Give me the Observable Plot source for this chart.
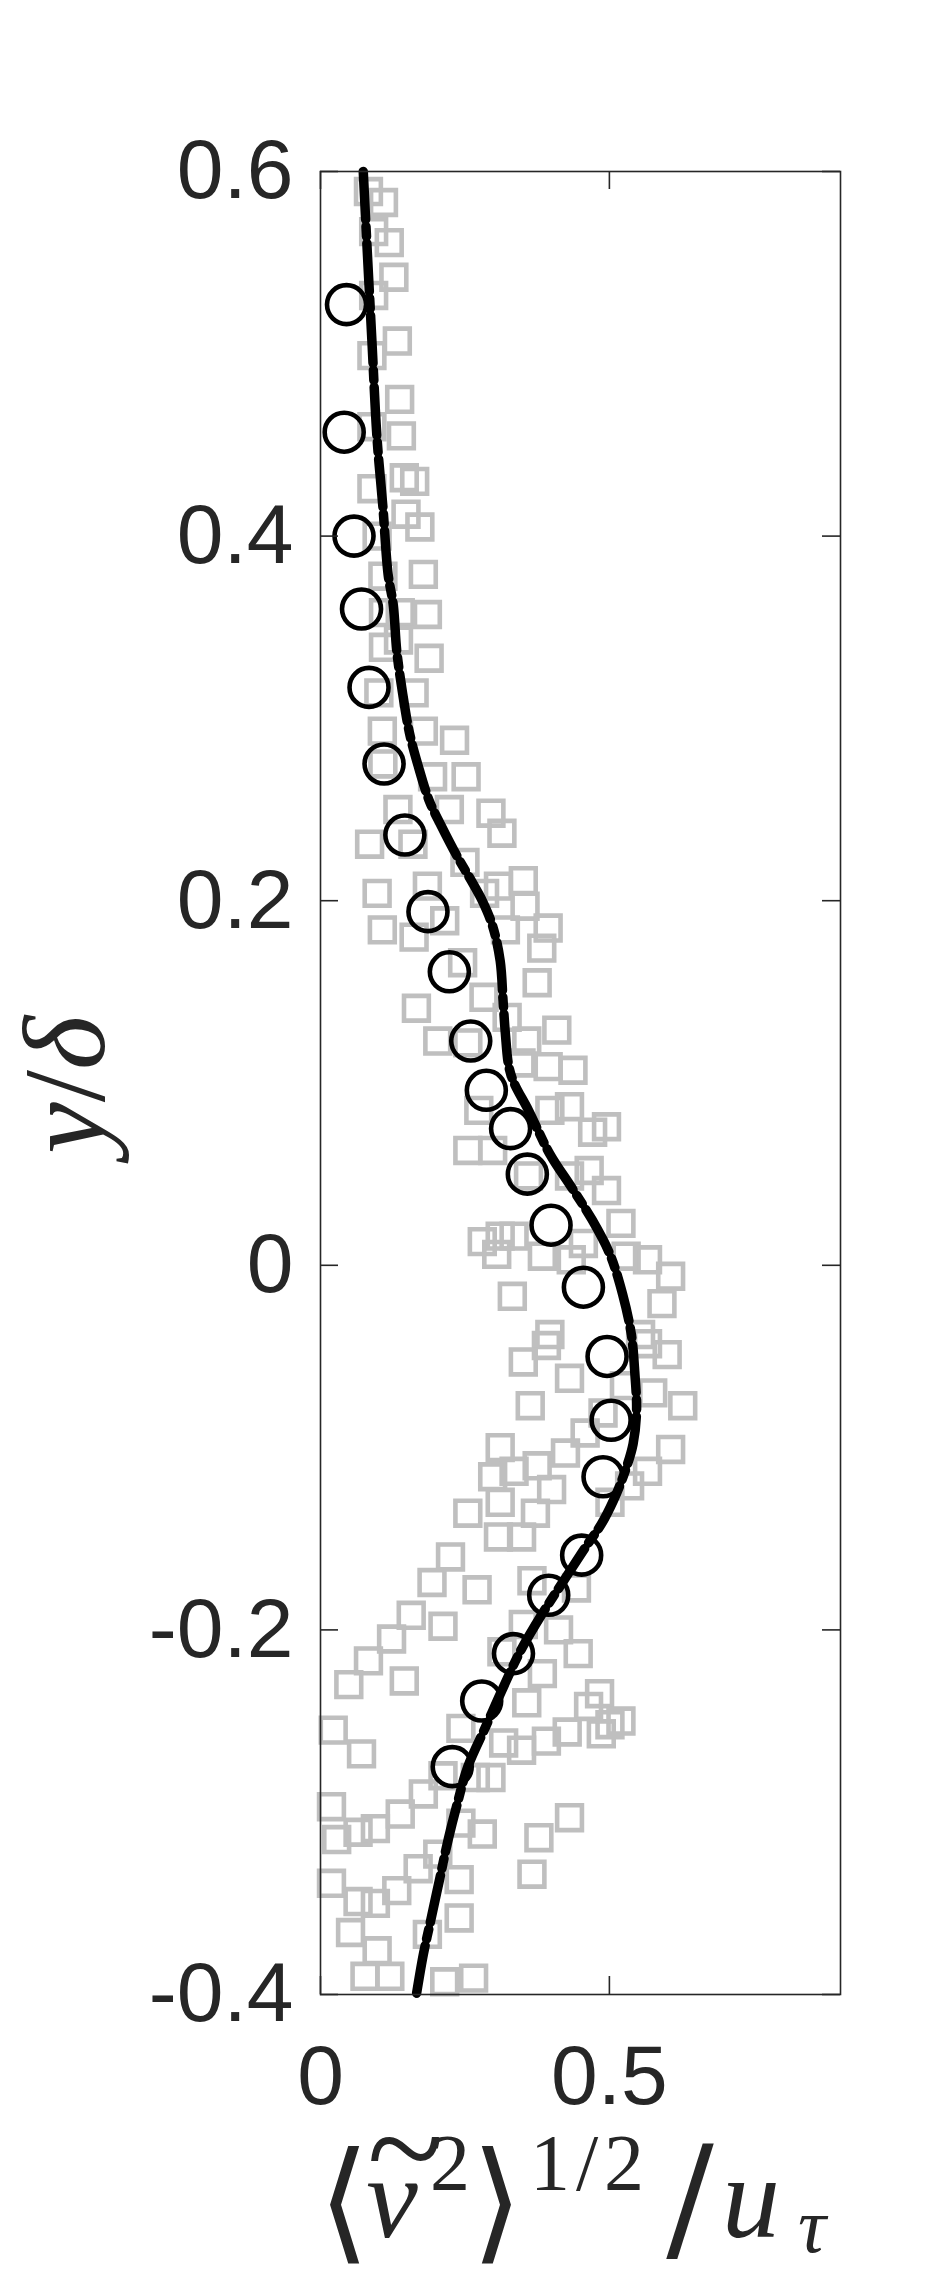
<!DOCTYPE html>
<html><head><meta charset="utf-8">
<script src="https://cdn.jsdelivr.net/npm/d3@7"></script>
<script src="https://cdn.jsdelivr.net/npm/@observablehq/plot@0.6"></script>
<style>body{margin:0;background:#fff}</style>
</head><body><div id="chart"></div>
<script>
// ---- data ----
const xTicks = [0, 0.5];
const yTicks = [-0.4, -0.2, 0, 0.2, 0.4, 0.6];

const circleX = [0.045,0.041,0.058,0.071,0.084,0.110,0.146,0.186,0.223,0.260,0.287,0.329,0.358,0.399,0.455,0.496,0.503,0.489,0.452,0.395,0.334,0.279,0.228];
const circleY = [0.527,0.457,0.400,0.360,0.317,0.275,0.236,0.194,0.161,0.123,0.096,0.075,0.050,0.022,-0.012,-0.050,-0.085,-0.116,-0.159,-0.181,-0.213,-0.239,-0.275];

const curveX = [0.074,0.080,0.089,0.098,0.108,0.117,0.126,0.132,0.142,0.154,0.169,0.188,0.209,0.237,0.261,0.280,0.298,0.311,0.316,0.320,0.326,0.335,0.360,0.397,0.434,0.470,0.501,0.523,0.538,0.544,0.547,0.541,0.526,0.507,0.486,0.458,0.421,0.384,0.347,0.317,0.286,0.255,0.237,0.221,0.206,0.191,0.178,0.166];
const curveY = [0.600,0.562,0.507,0.453,0.416,0.379,0.362,0.337,0.314,0.292,0.274,0.255,0.241,0.224,0.211,0.200,0.186,0.167,0.145,0.127,0.109,0.100,0.085,0.061,0.043,0.025,0.006,-0.016,-0.038,-0.059,-0.080,-0.098,-0.114,-0.129,-0.142,-0.155,-0.173,-0.191,-0.211,-0.231,-0.253,-0.275,-0.295,-0.315,-0.337,-0.359,-0.378,-0.400];

const squareX = [
 0.083,0.109,0.092,0.119,0.127,0.092,0.133,0.089,0.137,0.089,0.140,0.145,0.163,0.089,0.148,0.172,0.098,0.108,0.178,
 0.109,0.138,0.185,0.109,0.135,0.188,0.101,0.162,0.107,0.178,0.232,0.108,0.194,0.252,0.134,0.223,0.295,0.314,0.085,0.160,0.250,0.185,0.098,0.284,0.308,0.351,0.354,0.215,0.107,0.162,0.320,0.394,0.383,0.246,0.375,0.283,0.166,0.323,0.409,0.203,0.255,0.357,0.394,0.437,
 0.347,0.274,0.397,0.431,0.495,0.471,0.255,0.298,0.360,0.465,0.431,0.495,0.520,0.280,0.311,0.305,0.335,0.384,0.434,0.455,0.529,0.566,0.606,0.591,0.332,0.397,0.391,0.351,0.431,0.554,0.566,0.600,0.526,0.575,0.627,0.363,0.489,0.458,0.311,0.606,0.424,0.375,0.298,0.335,0.566,0.535,0.400,0.311,0.255,0.372,0.501,
 0.308,0.348,0.225,0.193,0.271,0.366,0.443,0.157,0.212,0.123,0.351,0.412,0.083,0.145,0.384,0.446,0.049,0.314,0.483,0.464,0.357,0.520,0.501,0.486,0.427,0.391,0.348,0.317,0.243,0.022,0.071,0.295,0.268,0.212,0.178,0.138,0.095,0.065,0.028,0.019,0.243,0.280,0.431,0.378,0.203,0.169,0.366,0.240,0.132,0.095,0.065,0.019,0.240,0.185,0.052,0.098,0.077,0.120,0.215,0.265
];
const squareY = [
 0.589,0.583,0.567,0.561,0.542,0.532,0.507,0.499,0.475,0.460,0.455,0.432,0.430,0.426,0.412,0.405,0.400,0.378,0.379,
 0.358,0.358,0.357,0.339,0.343,0.333,0.314,0.314,0.293,0.293,0.288,0.275,0.268,0.268,0.250,0.250,0.248,0.237,0.231,0.231,0.221,0.208,0.204,0.204,0.208,0.211,0.197,0.189,0.184,0.180,0.184,0.185,0.174,0.166,0.155,0.147,0.141,0.136,0.129,0.123,0.122,0.123,0.109,0.107,
 0.111,0.085,0.085,0.087,0.076,0.073,0.063,0.063,0.049,0.052,0.049,0.041,0.023,0.013,0.016,0.006,0.016,0.005,0.003,0.012,0.005,0.003,-0.006,-0.021,-0.017,-0.038,-0.044,-0.053,-0.062,-0.038,-0.043,-0.049,-0.066,-0.070,-0.077,-0.077,-0.081,-0.092,-0.100,-0.101,-0.103,-0.110,-0.116,-0.113,-0.113,-0.121,-0.123,-0.130,-0.136,-0.136,-0.130,
 -0.149,-0.149,-0.160,-0.174,-0.178,-0.173,-0.177,-0.192,-0.198,-0.205,-0.197,-0.200,-0.217,-0.228,-0.224,-0.213,-0.230,-0.212,-0.235,-0.242,-0.240,-0.250,-0.252,-0.257,-0.256,-0.261,-0.266,-0.262,-0.254,-0.255,-0.268,-0.281,-0.281,-0.280,-0.290,-0.301,-0.309,-0.311,-0.315,-0.297,-0.306,-0.312,-0.303,-0.314,-0.323,-0.331,-0.334,-0.337,-0.343,-0.350,-0.349,-0.339,-0.358,-0.367,-0.366,-0.376,-0.390,-0.390,-0.393,-0.391
];

// ---- build tables ----
const circles = circleX.map((x, i) => ({x, y: circleY[i]}));
const curve = curveX.map((x, i) => ({x, y: curveY[i]}));
const squares = squareX.map((x, i) => ({x, y: squareY[i]}));

const W = 930, H = 2280, mL = 320, mR = 90, mT = 171, mB = 286;
const pw = W - mL - mR, ph = H - mT - mB;
const axisColor = "#262626";
const fmt = d => String(d);

const plot = Plot.plot({
  width: W, height: H,
  marginLeft: mL, marginRight: mR, marginTop: mT, marginBottom: mB,
  x: {domain: [0, 0.9]},
  y: {domain: [-0.4, 0.6]},
  style: {fontFamily: "'Liberation Sans', Arial, sans-serif", background: "#fff", color: axisColor},
  marks: [
    Plot.dot(squares, {x: "x", y: "y", symbol: "square", r: 14, stroke: "#bfbfbf", strokeWidth: 4.6, fill: "none"}),
    Plot.line(curve, {x: "x", y: "y", stroke: "#000", strokeWidth: 6.5, curve: "catmull-rom"}),
    Plot.line(curve, {x: "x", y: "y", stroke: "#000", strokeWidth: 9.5, strokeDasharray: "48,7,10,7", curve: "catmull-rom"}),
    Plot.dot(circles, {x: "x", y: "y", r: 19.5, stroke: "#000", strokeWidth: 4.6, fill: "none"}),
    Plot.frame({stroke: axisColor, strokeWidth: 1.6}),
    Plot.tickY(yTicks, {y: d => d, insetRight: pw - 18, stroke: axisColor, strokeWidth: 1.6}),
    Plot.tickY(yTicks, {y: d => d, insetLeft: pw - 18, stroke: axisColor, strokeWidth: 1.6}),
    Plot.tickX(xTicks, {x: d => d, insetTop: ph - 18, stroke: axisColor, strokeWidth: 1.6}),
    Plot.tickX(xTicks, {x: d => d, insetBottom: ph - 18, stroke: axisColor, strokeWidth: 1.6}),
    Plot.axisY({ticks: yTicks, tickFormat: fmt, tickSize: 0, tickPadding: 27, fontSize: 84, label: null}),
    Plot.axisX({ticks: xTicks, tickFormat: fmt, tickSize: 0, tickPadding: 50, fontSize: 84, label: null})
  ]
});

const svg = d3.select(plot);
const serif = "'Liberation Serif', 'DejaVu Serif', serif";
const labelColor = "#262626";

// y label: y/δ (rotated)
const yl = svg.append("text")
  .attr("transform", "translate(104,1085) rotate(-90)")
  .attr("text-anchor", "middle")
  .attr("font-family", serif)
  .attr("font-size", 116)
  .attr("fill", labelColor);
yl.append("tspan").attr("font-style", "italic").text("y");
yl.append("tspan").text("/");
yl.append("tspan").attr("font-style", "italic").text("δ");

// x label: ⟨ṽ²⟩^{1/2}/u_τ — one text element; each piece centred on its position
const parts = [
  {s: "⟨", x: 344, y: 2246, size: 132, family: "'DejaVu Serif', serif"},
  {s: "v", x: 392, y: 2237, size: 116, italic: true},
  {s: "~", x: 405, y: 2195, size: 140},
  {s: "2", x: 450, y: 2190, size: 80},
  {s: "⟩", x: 497, y: 2246, size: 132, family: "'DejaVu Serif', serif"},
  {s: "1/2", x: 590, y: 2190, size: 80, ls: 6},
  {s: "/", x: 690, y: 2246, size: 141, family: "'DejaVu Serif', serif"},
  {s: "u", x: 751, y: 2237, size: 116, italic: true},
  {s: "τ", x: 812, y: 2252, size: 78, italic: true}
];
const xl = svg.append("text")
  .attr("font-family", serif)
  .attr("text-anchor", "middle")
  .attr("fill", labelColor);
for (const p of parts) {
  const t = xl.append("tspan")
    .attr("x", p.x).attr("y", p.y)
    .attr("font-size", p.size)
    .attr("font-style", p.italic ? "italic" : "normal")
    .text(p.s);
  if (p.family) t.attr("font-family", p.family);
  if (p.ls) t.attr("letter-spacing", p.ls);
}

document.getElementById("chart").appendChild(plot);
</script>
</body></html>
